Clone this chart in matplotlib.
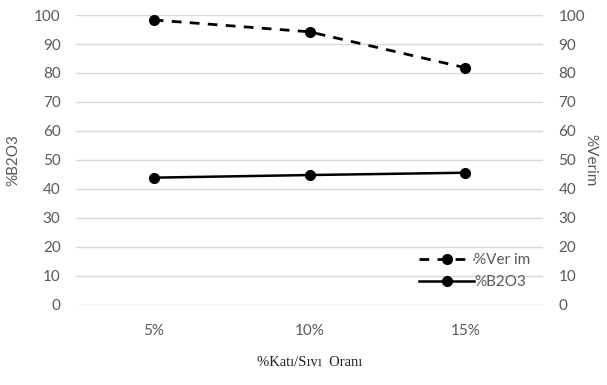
import matplotlib
matplotlib.use("Agg")
import matplotlib.pyplot as plt
import numpy as np

# solid / liquid ratio categories
oranlar = ["5%", "10%", "15%"]
verim = [98.3, 94.2, 81.8]
b2o3 = [43.9, 44.8, 45.6]
y_ticks = [0, 10, 20, 30, 40, 50, 60, 70, 80, 90, 100]

plt.rcParams['font.family'] = ['Lato', 'DejaVu Sans']
tick_color = '#595959'
grid_color = '#d9d9d9'

fig = plt.figure(figsize=(6.07, 3.85), dpi=100)
ax = fig.add_axes([0.125, 0.208, 0.77, 0.753])
ax2 = ax.twinx()

x_pos = np.arange(len(oranlar))

# %Verim on the right axis, %B2O3 on the left
l1, = ax2.plot(x_pos, verim, color='black', linestyle=(0, (3.5, 3)), linewidth=2,
               marker='o', markersize=7, label='%Ver im')
l2, = ax.plot(x_pos, b2o3, color='black', linewidth=1.8,
              marker='o', markersize=7, label='%B2O3')

for a in (ax, ax2):
    a.set_ylim(0, 100)
    a.set_yticks(y_ticks)
    a.set_xlim(-0.5, 2.5)
    for s in a.spines.values():
        s.set_visible(False)
    a.tick_params(axis='y', length=0, labelsize=11, colors=tick_color, pad=11)

ax.set_xticks(x_pos)
ax.set_xticklabels(oranlar)
ax.tick_params(axis='x', length=0, labelsize=11, colors=tick_color, pad=14)
ax.yaxis.grid(True, color=grid_color, linewidth=1)
ax.set_axisbelow(True)

ax.set_ylabel('%B2O3', fontsize=11, color=tick_color)
ax.yaxis.set_label_coords(-0.118, 0.5)
ax2.set_ylabel('%Verim', fontsize=11, color=tick_color, rotation=270, va='center')
ax2.yaxis.set_label_coords(1.1, 0.5)
ax.set_xlabel('%Katı/Sıvı  Oranı', fontsize=10.5, family=['Liberation Serif', 'DejaVu Serif'],
              color='#222222')
ax.xaxis.set_label_coords(0.5, -0.175)

ax2.legend(handles=[l1, l2], loc='upper left', bbox_to_anchor=(0.705, 0.225),
           frameon=False, fontsize=11, handlelength=3.6, handletextpad=0.0,
           labelcolor=tick_color, labelspacing=0.5)

fig.savefig('out.png', dpi=100)
